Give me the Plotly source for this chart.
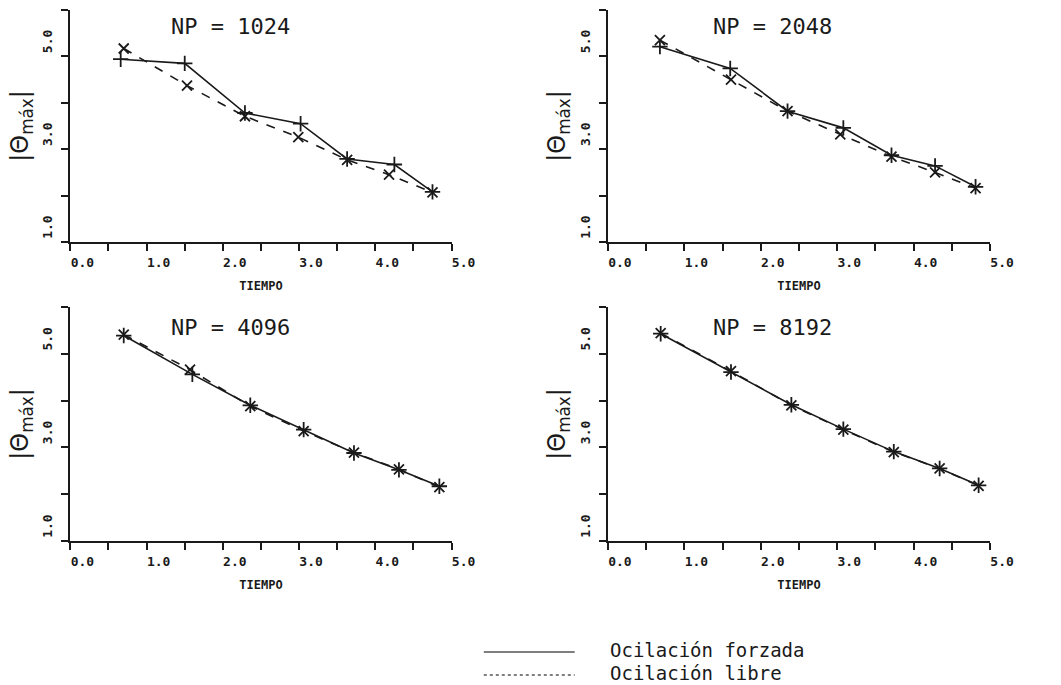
import plotly.graph_objects as go

W, H = 1061, 685

# ---------------- data ----------------
panel_titles = ["NP = 1024", "NP = 2048", "NP = 4096", "NP = 8192"]

t_forz_1024 = [0.66, 1.50, 2.29, 3.02, 3.63, 4.25, 4.75]
forz_1024 = [4.94, 4.85, 3.78, 3.55, 2.79, 2.67, 2.08]
t_libre_1024 = [0.70, 1.53, 2.29, 2.99, 3.63, 4.18, 4.75]
libre_1024 = [5.17, 4.37, 3.71, 3.26, 2.77, 2.45, 2.07]

t_forz_2048 = [0.68, 1.60, 2.35, 3.08, 3.71, 4.28, 4.81]
forz_2048 = [5.21, 4.74, 3.82, 3.46, 2.87, 2.64, 2.19]
t_libre_2048 = [0.68, 1.61, 2.35, 3.04, 3.71, 4.28, 4.81]
libre_2048 = [5.35, 4.50, 3.82, 3.32, 2.84, 2.50, 2.16]

t_forz_4096 = [0.70, 1.60, 2.36, 3.06, 3.72, 4.31, 4.84]
forz_4096 = [5.39, 4.56, 3.90, 3.38, 2.88, 2.52, 2.17]
t_libre_4096 = [0.70, 1.57, 2.36, 3.06, 3.72, 4.31, 4.84]
libre_4096 = [5.41, 4.66, 3.88, 3.35, 2.89, 2.53, 2.15]

t_forz_8192 = [0.69, 1.61, 2.40, 3.08, 3.74, 4.34, 4.85]
forz_8192 = [5.43, 4.61, 3.91, 3.39, 2.91, 2.55, 2.19]
t_libre_8192 = [0.69, 1.61, 2.40, 3.08, 3.74, 4.34, 4.85]
libre_8192 = [5.44, 4.63, 3.90, 3.38, 2.90, 2.55, 2.18]

x_tickvals = [0, 1, 2, 3, 4, 5]
x_ticktext = ["0.0", "1.0", "2.0", "3.0", "4.0", "5.0"]
x_minor_tickvals = [0.5, 1.5, 2.5, 3.5, 4.5]
y_tickvals = [1, 3, 5]
y_ticktext = ["1.0", "3.0", "5.0"]
y_minor_tickvals = [2, 4, 6]

legend_labels = ["Ocilación forzada", "Ocilación libre"]
x_title = "TIEMPO"
y_title = "|Θ<sub>máx</sub>|"

panels = [
    (t_forz_1024, forz_1024, t_libre_1024, libre_1024),
    (t_forz_2048, forz_2048, t_libre_2048, libre_2048),
    (t_forz_4096, forz_4096, t_libre_4096, libre_4096),
    (t_forz_8192, forz_8192, t_libre_8192, libre_8192),
]

# ---------------- layout geometry (pixels) ----------------
col_px = [(72, 462), (622, 1013)]
row_px = [(10, 242), (307, 541)]  # top, bottom


def px_x(p):
    return p / W


def px_y(p):
    return 1 - p / H


INK = "#1a1a1a"
MONO = "DejaVu Sans Mono"

fig = go.Figure()
layout = dict(
    width=W, height=H, margin=dict(l=0, r=0, t=0, b=0),
    paper_bgcolor="white", plot_bgcolor="white", showlegend=False,
)
annotations = []
shapes = []

for i, (tf, f, tl, l) in enumerate(panels):
    r, c = divmod(i, 2)
    n = "" if i == 0 else str(i + 1)
    xa, ya = "x" + n, "y" + n
    x0, x1 = col_px[c]
    y0, y1 = row_px[r]
    layout["xaxis" + n] = dict(
        domain=[px_x(x0), px_x(x1)], range=[0, 5], anchor=ya,
        showline=True, linecolor=INK, linewidth=2, showgrid=False, zeroline=False,
        ticks="outside", ticklen=7, tickwidth=2, tickcolor=INK,
        tickvals=x_tickvals, ticktext=x_ticktext, ticklabelshift=12,
        minor=dict(tickvals=x_minor_tickvals, ticks="outside", ticklen=7,
                   tickwidth=2, tickcolor=INK, showgrid=False),
        tickfont=dict(family=MONO, size=13, color=INK, weight="bold"),
        title=dict(text=x_title, standoff=13,
                   font=dict(family=MONO, size=12, color=INK, weight="bold")),
    )
    layout["yaxis" + n] = dict(
        domain=[px_y(y1), px_y(y0)], range=[1, 6], anchor=xa,
        showline=True, linecolor=INK, linewidth=2, showgrid=False, zeroline=False,
        ticks="outside", ticklen=7, tickwidth=2, tickcolor=INK,
        tickvals=y_tickvals, ticktext=y_ticktext, tickangle=-90,
        ticklabelshift=-13, ticklabelstandoff=4,
        minor=dict(tickvals=y_minor_tickvals, ticks="outside", ticklen=7,
                   tickwidth=2, tickcolor=INK, showgrid=False),
        tickfont=dict(family=MONO, size=13, color=INK, weight="bold"),
        title=dict(text=y_title, standoff=5,
                   font=dict(family="DejaVu Sans", size=24, color=INK)),
    )
    fig.add_trace(go.Scatter(
        x=tf, y=f, xaxis=xa, yaxis=ya, mode="lines+markers", name=legend_labels[0],
        line=dict(color=INK, width=1.6),
        marker=dict(symbol="cross-thin", size=11, line=dict(color=INK, width=1.8)),
    ))
    fig.add_trace(go.Scatter(
        x=tl, y=l, xaxis=xa, yaxis=ya, mode="lines+markers", name=legend_labels[1],
        line=dict(color=INK, width=1.6, dash="dash"),
        marker=dict(symbol="x-thin", size=10, line=dict(color=INK, width=1.8)),
    ))
    # panel title
    annotations.append(dict(
        text=panel_titles[i], xref="paper", yref="paper",
        x=px_x(236 if c == 0 else 790), y=px_y(26 if r == 0 else 327),
        showarrow=False, xanchor="center", yanchor="middle",
        font=dict(family=MONO, size=22, color=INK),
    ))

# legend (bottom)
leg_rows = [(650, "solid"), (673, "dot")]
for (yy, dash), lab in zip(leg_rows, legend_labels):
    shapes.append(dict(
        type="line", xref="paper", yref="paper",
        x0=px_x(495), x1=px_x(588), y0=px_y(yy + 2), y1=px_y(yy + 2),
        line=dict(color="#555555", width=1.5, dash=dash),
    ))
    annotations.append(dict(
        text=lab, xref="paper", yref="paper", x=px_x(622), y=px_y(yy),
        showarrow=False, xanchor="left", yanchor="middle",
        font=dict(family=MONO, size=19, color=INK),
    ))

layout["annotations"] = annotations
layout["shapes"] = shapes
fig.update_layout(**layout)
fig.write_html("out.html")
